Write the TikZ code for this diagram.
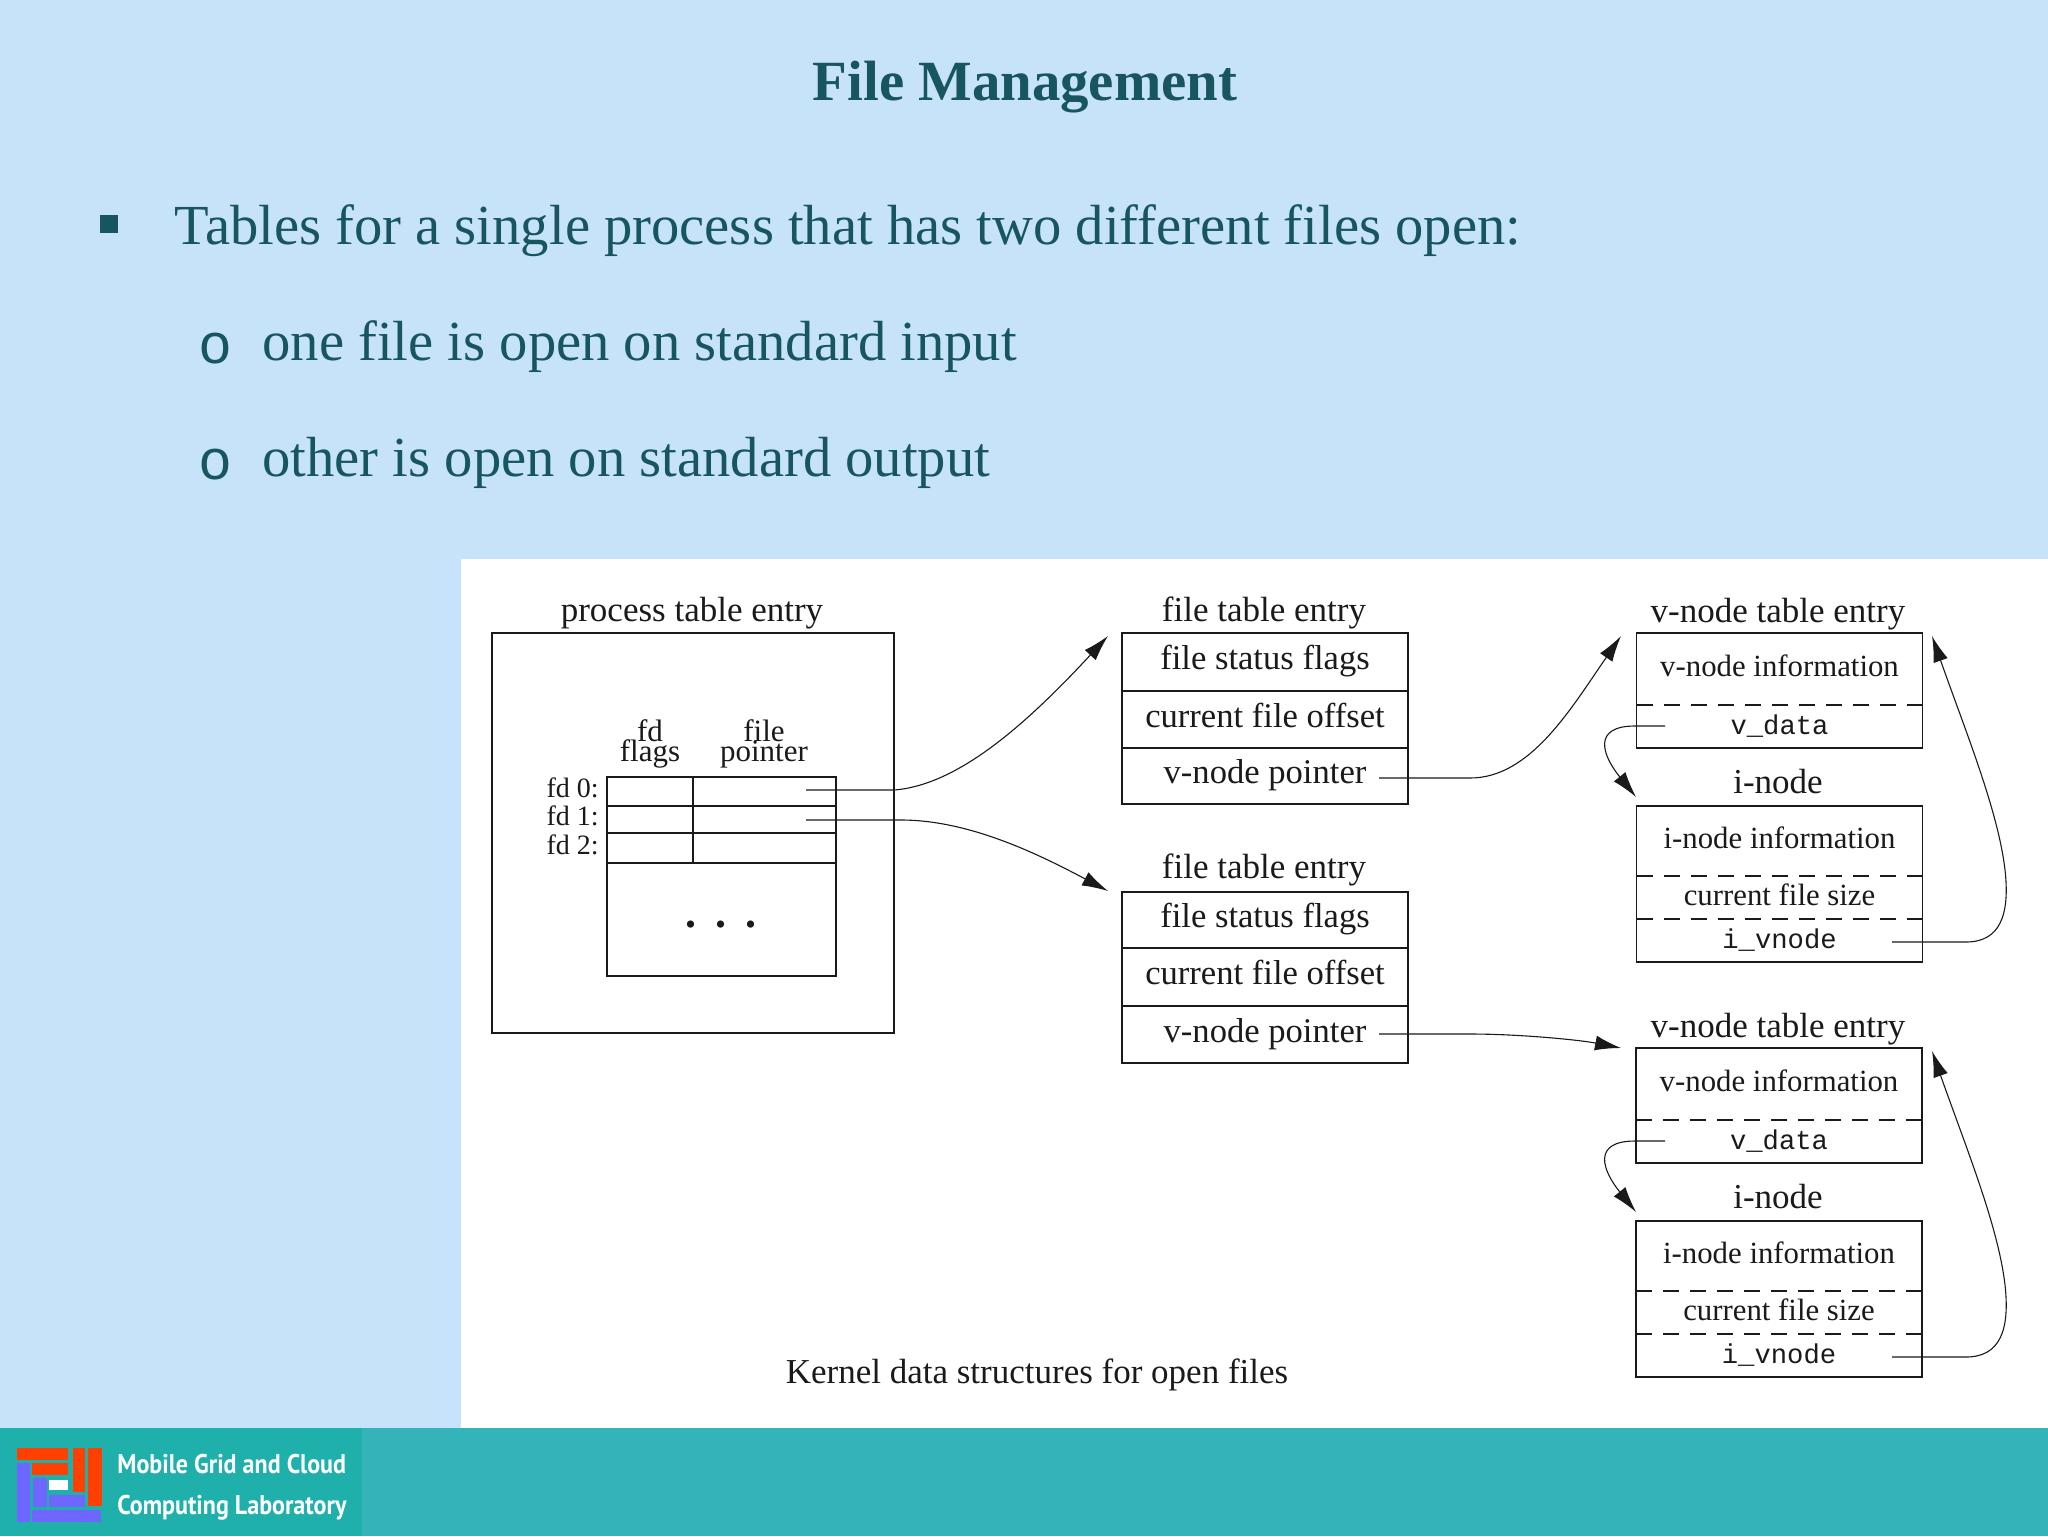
\documentclass[tikz,border=0pt]{standalone}
\usepackage{fontspec}
\setmainfont{Liberation Serif}
\setmonofont{Liberation Mono}
\setsansfont{PT Sans}
\usetikzlibrary{arrows.meta,positioning}
\definecolor{slideblue}{HTML}{C6E3F9}
\definecolor{slideink}{HTML}{17565F}
\definecolor{footteal}{HTML}{34B4B8}
\definecolor{logoteal}{HTML}{1FB0AC}
\definecolor{logored}{HTML}{FF4000}
\definecolor{logoblue}{HTML}{6F66FF}
\definecolor{lineink}{HTML}{1A1A1A}

\begin{document}
\begin{tikzpicture}[x=0.5pt,y=-0.5pt]
\tikzset{slidetext/.style={anchor=base west,inner sep=0pt,text=slideink,font=\fontsize{28.3}{32}\selectfont}}
\tikzset{slidemark/.style={slidetext,font=\ttfamily\fontsize{28.3}{32}\selectfont}}
\tikzset{labeltext/.style={anchor=base,inner sep=0pt,text=lineink,font=\fontsize{17.5}{20}\selectfont}}
\tikzset{fdtext/.style={anchor=base east,inner sep=0pt,text=lineink,font=\fontsize{14}{16}\selectfont}}
\tikzset{headtext/.style={anchor=base,inner sep=0pt,text=lineink,font=\fontsize{15.5}{16}\selectfont}}
\tikzset{rowbox/.style={rectangle,outer sep=0pt,inner sep=0pt,minimum width=143pt,text=lineink,text height=10.6pt,text depth=3pt,font=\fontsize{15.4}{18}\selectfont}}
\tikzset{filerow/.style={rowbox,font=\fontsize{17.3}{20}\selectfont}}
\tikzset{monorow/.style={rowbox,text height=11pt,text depth=3pt,font=\ttfamily\fontsize{13.6}{16}\selectfont}}
\tikzset{cellbox/.style={draw=lineink,line width=0.8pt,rectangle,outer sep=0pt,inner sep=0pt}}
\tikzset{boxline/.style={draw=lineink,line width=0.8pt}}
\tikzset{dashline/.style={draw=lineink,line width=0.7pt,dash pattern=on 8pt off 5.5pt}}
\tikzset{link/.style={draw=lineink,line width=0.55pt,-{Latex[length=13pt,width=7.5pt]}}}
\tikzset{footertext/.style={anchor=base west,inner sep=0pt,text=white,xscale=0.89,font=\sffamily\bfseries\fontsize{13.5}{16}\selectfont}}
\useasboundingbox (0,0) rectangle (2048,1536);
\fill[slideblue] (0,0) rectangle (2048,1428);
\fill[white] (461,559) rectangle (2048,1428);
\fill[footteal] (0,1428) rectangle (2048,1536);
\fill[logoteal] (0,1428) rectangle (362,1536);
\fill[logored] (17,1448) rectangle (68,1460);
\fill[logored] (32,1463) rectangle (68,1475);
\fill[logored] (73,1448) rectangle (85,1492);
\fill[logored] (88,1448) rectangle (102,1506);
\fill[logoblue] (17,1463) rectangle (30,1522);
\fill[logoblue] (33,1478) rectangle (47,1507);
\fill[logoblue] (49,1495) rectangle (85,1507);
\fill[logoblue] (32,1510) rectangle (101,1522);
\fill[white] (49,1480) rectangle (68,1490);
\node[footertext] (footera) at (117,1473) {Mobile Grid and Cloud};
\node[footertext] (footerb) at (117,1514) {Computing Laboratory};
\node[anchor=base,inner sep=0pt,text=slideink,font=\bfseries\fontsize{28.4}{32}\selectfont] (title) at (1025,100) {File Management};
\fill[slideink] (100,215) rectangle (118,233);
\node[slidetext] (bullet) at (174,244) {Tables for a single process that has two different files open:};
\node[slidemark] (marka) at (198,363) {o};
\node[slidetext] (suba) at (262,360) {one file is open on standard input};
\node[slidemark] (markb) at (198,479) {o};
\node[slidetext] (subb) at (262,476) {other is open on standard output};
\node[labeltext] (proclabel) at (692,621) {process table entry};
\node[cellbox,minimum width=201pt,minimum height=200pt] (procbox) at (693,833) {};
\node[headtext] (fdhead) at (650,741) {fd};
\node[headtext] (flaghead) at (650,761) {flags};
\node[headtext] (filehead) at (764,741) {file};
\node[headtext] (ptrhead) at (764,761) {pointer};
\node[cellbox,minimum width=43pt,minimum height=14.5pt] (flaga) at (650,791.5) {};
\node[cellbox,minimum width=71.5pt,minimum height=14.5pt,right=0pt of flaga] (ptra) {};
\node[cellbox,minimum width=43pt,minimum height=13.5pt,below=0pt of flaga] (flagb) {};
\node[cellbox,minimum width=71.5pt,minimum height=13.5pt,right=0pt of flagb] (ptrb) {};
\node[cellbox,minimum width=43pt,minimum height=15pt,below=0pt of flagb] (flagc) {};
\node[cellbox,minimum width=71.5pt,minimum height=15pt,right=0pt of flagc] (ptrc) {};
\node[cellbox,minimum width=114.5pt,minimum height=56.5pt] (rest) at (721.5,919.5) {};
\node[anchor=base,inner sep=0pt,text=lineink,font=\bfseries\fontsize{22}{24}\selectfont] (restdots) at (721,927) {.\hspace{9.5pt}.\hspace{9.5pt}.};
\node[fdtext] (fda) at (599,797) {fd 0:};
\node[fdtext] (fdb) at (599,825) {fd 1:};
\node[fdtext] (fdc) at (599,854) {fd 2:};
\node[labeltext] (filelabela) at (1264,621) {file table entry};
\node[filerow,cellbox,minimum height=29pt] (statusa) at (1265,662) {file status flags};
\node[filerow,cellbox,minimum height=28.5pt,below=0pt of statusa] (offseta) {current file offset};
\node[filerow,cellbox,minimum height=28pt,below=0pt of offseta] (vptra) {v-node pointer};
\node[labeltext] (filelabelb) at (1264,878) {file table entry};
\node[filerow,cellbox,minimum height=28pt] (statusb) at (1265,920) {file status flags};
\node[filerow,cellbox,minimum height=29pt,below=0pt of statusb] (offsetb) {current file offset};
\node[filerow,cellbox,minimum height=28.5pt,below=0pt of offsetb] (vptrb) {v-node pointer};
\node[labeltext] (vlabela) at (1778,622) {v-node table entry};
\node[rowbox,minimum height=36pt] (vinfoa) at (1779.5,669) {v-node information};
\node[monorow,minimum height=21.5pt,below=0pt of vinfoa] (vdataa) {v\_data};
\draw[boxline] (vinfoa.north west) rectangle (vdataa.south east);
\draw[dashline] (vinfoa.south west) -- (vinfoa.south east);
\node[labeltext] (ilabela) at (1778,793) {i-node};
\node[rowbox,minimum height=35pt] (iinfoa) at (1779.5,841) {i-node information};
\node[rowbox,minimum height=21.5pt,below=0pt of iinfoa] (isizea) {current file size};
\node[monorow,minimum height=21.5pt,below=0pt of isizea] (ivnodea) {i\_vnode};
\draw[boxline] (iinfoa.north west) rectangle (ivnodea.south east);
\draw[dashline] (iinfoa.south west) -- (iinfoa.south east);
\draw[dashline] (isizea.south west) -- (isizea.south east);
\node[labeltext] (vlabelb) at (1778,1037) {v-node table entry};
\node[rowbox,minimum height=36pt] (vinfob) at (1779,1084) {v-node information};
\node[monorow,minimum height=21.5pt,below=0pt of vinfob] (vdatab) {v\_data};
\draw[boxline] (vinfob.north west) rectangle (vdatab.south east);
\draw[dashline] (vinfob.south west) -- (vinfob.south east);
\node[labeltext] (ilabelb) at (1778,1208) {i-node};
\node[rowbox,minimum height=35pt] (iinfob) at (1779,1256) {i-node information};
\node[rowbox,minimum height=21.5pt,below=0pt of iinfob] (isizeb) {current file size};
\node[monorow,minimum height=21.5pt,below=0pt of isizeb] (ivnodeb) {i\_vnode};
\draw[boxline] (iinfob.north west) rectangle (ivnodeb.south east);
\draw[dashline] (iinfob.south west) -- (iinfob.south east);
\draw[dashline] (isizeb.south west) -- (isizeb.south east);
\node[labeltext] (caption) at (1037,1383) {Kernel data structures for open files};
\coordinate (ptraout) at (806,790);
\coordinate (ptrbout) at (806,820);
\coordinate (vptraout) at (1379,778);
\coordinate (vptrbout) at (1379,1034);
\coordinate (vdataaout) at (1665,726);
\coordinate (vdatabout) at (1665,1141);
\coordinate (ivnodeaout) at (1892,942);
\coordinate (ivnodebout) at (1892,1357);
\coordinate (filetipa) at (1108,636);
\coordinate (filetipb) at (1108,891);
\coordinate (vtipa) at (1621,636);
\coordinate (vtipb) at (1621,1048);
\coordinate (itipa) at (1636,797);
\coordinate (itipb) at (1636,1212);
\coordinate (vbacka) at (1932,636);
\coordinate (vbackb) at (1932,1051);
\draw[link] (ptraout) -- (894,790) .. controls (960,785) and (1030,720) .. (filetipa);
\draw[link] (ptrbout) -- (901,820) .. controls (970,820) and (1040,855) .. (filetipb);
\draw[link] (vptraout) -- (1470,778) .. controls (1530,778) and (1570,710) .. (vtipa);
\draw[link] (vptrbout) -- (1470,1034) .. controls (1520,1034) and (1580,1040) .. (vtipb);
\draw[link] (vdataaout) -- (1635,726) .. controls (1592,726) and (1602,755) .. (itipa);
\draw[link] (vdatabout) -- (1635,1141) .. controls (1592,1141) and (1602,1170) .. (itipb);
\draw[link] (ivnodeaout) -- (1966,942) .. controls (2000,942) and (2010,915) .. (2005,870) .. controls (1998,810) and (1965,730) .. (vbacka);
\draw[link] (ivnodebout) -- (1966,1357) .. controls (2000,1357) and (2010,1330) .. (2005,1285) .. controls (1998,1225) and (1965,1145) .. (vbackb);
\end{tikzpicture}
\end{document}
